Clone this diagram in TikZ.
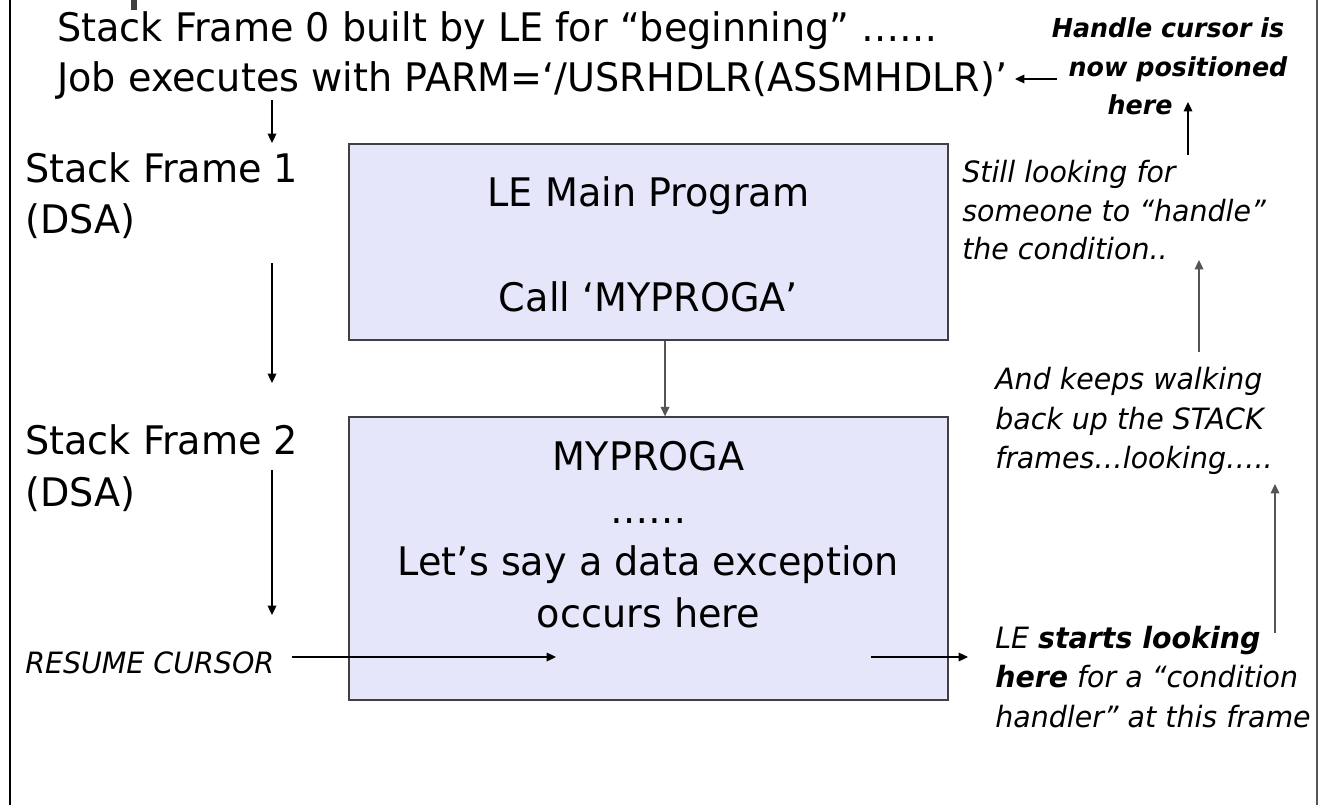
\documentclass[tikz,border=0pt]{standalone}
\usepackage{fontspec}
\setmainfont{DejaVu Sans}[FakeStretch=0.97]
\usetikzlibrary{arrows.meta}
\definecolor{boxfill}{RGB}{230,230,250}
\definecolor{boxline}{RGB}{64,64,64}
\definecolor{graylink}{RGB}{85,85,85}
\tikzset{
  big/.style={font=\fontsize{29.5}{35}\selectfont, inner sep=0pt},
  ital/.style={font=\fontsize{22}{26}\selectfont\itshape, inner sep=0pt},
  bital/.style={font=\fontsize{19.6}{24}\selectfont\bfseries\itshape, inner sep=0pt},
  stackbox/.style={draw=boxline, fill=boxfill, line width=1.1pt, inner sep=0pt},
  arr/.style={-{Triangle[length=7pt,width=6.5pt]}, line width=0.9pt},
  grayarr/.style={arr, draw=graylink}
}
\begin{document}
\begin{tikzpicture}[x=0.75pt,y=-0.75pt]
\useasboundingbox (0,0) rectangle (1324,805);
\fill[white] (0,0) rectangle (1324,805);
% page borders
\draw[line width=0.9pt, black] (10,0) -- (10,805);
\draw[line width=0.9pt, graylink] (1317,0) -- (1317,805);
\draw[line width=4.5pt, boxline] (134,0) -- (134,10);

% top lines
\node[big, anchor=base west] (t1) at (57,42) {Stack Frame 0 built by LE for “beginning” ……};
\node[big, anchor=base west] (t2) at (57,92) {Job executes with PARM=‘/USRHDLR(ASSMHDLR)’};

% left labels
\node[big, anchor=base west] (sf1) at (25,183) {Stack Frame 1};
\node[big, anchor=base west] (dsa1) at (25,234) {(DSA)};
\node[big, anchor=base west] (sf2) at (25,455) {Stack Frame 2};
\node[big, anchor=base west] (dsa2) at (25,506) {(DSA)};
\node[ital, anchor=base west] (resume) at (25,673) {RESUME CURSOR};

% boxes
\node[stackbox, minimum width=449.25pt, minimum height=147pt] (box1) at (648.5,242) {};
\node[stackbox, minimum width=449.25pt, minimum height=212.25pt] (box2) at (648.5,558.5) {};

\node[big, anchor=base] (lemain) at (648.5,207) {LE Main Program};
\node[big, anchor=base] (callp) at (648.5,312) {Call ‘MYPROGA’};

\node[big, anchor=base] (myp) at (648.5,470) {MYPROGA};
\node[big, anchor=base] (dots) at (648.5,523) {……};
\node[big, anchor=base] (lets) at (648.5,575) {Let’s say a data exception};
\node[big, anchor=base] (occ) at (648.5,627) {occurs here};

% right annotations
\node[bital, anchor=base] (h1) at (1168,38) {Handle cursor is};
\node[bital, anchor=base] (h2) at (1178,77) {now positioned};
\node[bital, anchor=base] (h3) at (1140,115) {here};

\node[ital, anchor=base west] (s1) at (962,183) {Still looking for};
\node[ital, anchor=base west] (s2) at (962,222) {someone to “handle”};
\node[ital, anchor=base west] (s3) at (962,260) {the condition..};

\node[ital, anchor=base west] (k1) at (995,390) {And keeps walking};
\node[ital, anchor=base west] (k2) at (995,429) {back up the STACK};
\node[ital, anchor=base west] (k3) at (995,468) {frames…looking…..};

\node[ital, anchor=base west] (l1) at (995,648) {LE \textbf{starts looking}};
\node[ital, anchor=base west] (l2) at (995,687) {\textbf{here} for a “condition};
\node[ital, anchor=base west] (l3) at (995,727) {handler” at this frame};

% connector end points
\coordinate (a1s) at (272,100);
\coordinate (a1e) at (272,143);
\coordinate (a2s) at (272,263);
\coordinate (a2e) at (272,383);
\coordinate (a3s) at (272,470);
\coordinate (a3e) at (272,615);
\coordinate (rcs) at (292,657);
\coordinate (rce) at (556,657);
\coordinate (lks) at (871,657);
\coordinate (lke) at (968,657);
\coordinate (ups1s) at (1275,633);
\coordinate (ups1e) at (1275,484);
\coordinate (ups2s) at (1199,352);
\coordinate (ups2e) at (1199,260);
\coordinate (ups3s) at (1188,155);
\coordinate (ups3e) at (1188,102);
\coordinate (hcs) at (1057,79);
\coordinate (hce) at (1015,79);

% connectors
\draw[arr] (a1s) -- (a1e);
\draw[arr] (a2s) -- (a2e);
\draw[arr] (a3s) -- (a3e);
\draw[grayarr] ([xshift=12.4pt]box1.south) -- ([xshift=12.4pt]box2.north);
\draw[arr] (rcs) -- (rce);
\draw[arr] (lks) -- (lke);
\draw[grayarr] (ups1s) -- (ups1e);
\draw[grayarr] (ups2s) -- (ups2e);
\draw[arr] (ups3s) -- (ups3e);
\draw[arr] (hcs) -- (hce);
\end{tikzpicture}
\end{document}
